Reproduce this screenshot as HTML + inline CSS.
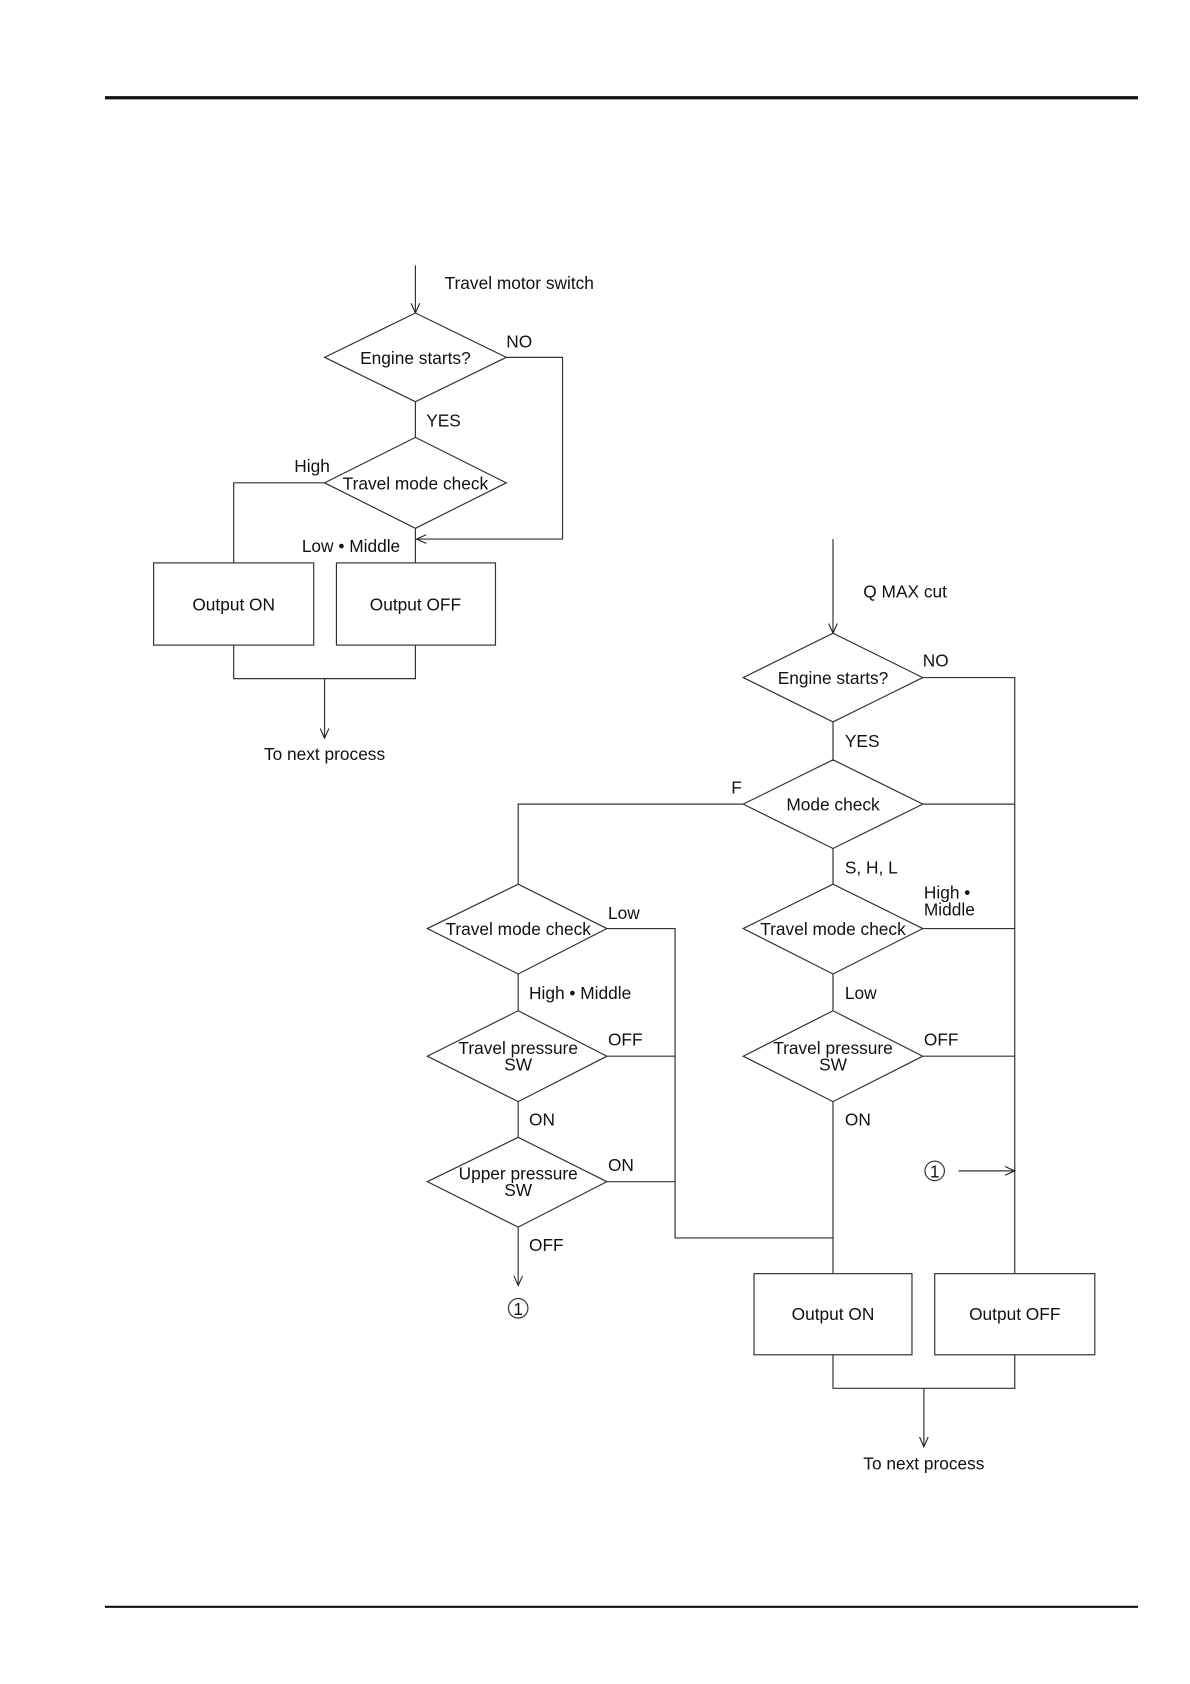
<!DOCTYPE html>
<html><head><meta charset="utf-8"><style>
html,body{margin:0;padding:0;background:#fff;}
svg{display:block;}
text{font-family:"Liberation Sans",Arial,sans-serif;font-size:16px;fill:#111;}
</style></head><body>
<svg width="1190" height="1684" viewBox="0 0 1100 1556" xmlns="http://www.w3.org/2000/svg">
<defs>
<marker id="a" markerWidth="12" markerHeight="12" refX="10" refY="5" orient="auto" markerUnits="userSpaceOnUse">
<path d="M1,1 L10,5 L1,9" fill="none" stroke="#222" stroke-width="1"/>
</marker>
</defs>
<line x1="97" y1="90" x2="1052" y2="90" stroke="#111" stroke-width="3"/>
<line x1="97" y1="1485" x2="1052" y2="1485" stroke="#111" stroke-width="2"/>
<g fill="none" stroke="#333" stroke-width="1.1">
<!-- left chart -->
<line x1="384" y1="245" x2="384" y2="289" marker-end="url(#a)"/>
<polygon points="384,289 468,330 384,371 300,330" fill="#fff"/>
<polyline points="468,330 520,330 520,498 385,498" marker-end="url(#a)"/>
<line x1="384" y1="371" x2="384" y2="404"/>
<polygon points="384,404 468,446 384,488 300,446" fill="#fff"/>
<polyline points="300,446 216,446 216,520"/>
<line x1="384" y1="488" x2="384" y2="520"/>
<rect x="142" y="520" width="148" height="76"/>
<rect x="311" y="520" width="147" height="76"/>
<polyline points="216,596 216,627 384,627 384,596"/>
<line x1="300" y1="627" x2="300" y2="682" marker-end="url(#a)"/>
<!-- right chart -->
<line x1="770" y1="498" x2="770" y2="585" marker-end="url(#a)"/>
<polygon points="770,585 853,626 770,667 687,626" fill="#fff"/>
<polyline points="853,626 938,626 938,1177"/>
<line x1="770" y1="667" x2="770" y2="702"/>
<polygon points="770,702 853,743 770,784 687,743" fill="#fff"/>
<polyline points="687,743 479,743 479,817"/>
<line x1="853" y1="743" x2="938" y2="743"/>
<line x1="770" y1="784" x2="770" y2="817"/>
<polygon points="770,817 853,858 770,900 687,858" fill="#fff"/>
<line x1="853" y1="858" x2="938" y2="858"/>
<line x1="770" y1="900" x2="770" y2="934"/>
<polygon points="770,934 853,976 770,1018 687,976" fill="#fff"/>
<line x1="853" y1="976" x2="938" y2="976"/>
<line x1="770" y1="1018" x2="770" y2="1177"/>
<line x1="886" y1="1082" x2="938" y2="1082" marker-end="url(#a)"/>
<rect x="697" y="1177" width="146" height="75"/>
<rect x="864" y="1177" width="148" height="75"/>
<polyline points="770,1252 770,1283 938,1283 938,1252"/>
<line x1="854" y1="1283" x2="854" y2="1337" marker-end="url(#a)"/>
<!-- left lower -->
<polygon points="479,817 561,858 479,900 395,858" fill="#fff"/>
<polyline points="561,858 624,858 624,1144 770,1144"/>
<line x1="479" y1="900" x2="479" y2="934"/>
<polygon points="479,934 561,976 479,1018 395,976" fill="#fff"/>
<line x1="561" y1="976" x2="624" y2="976"/>
<line x1="479" y1="1018" x2="479" y2="1051"/>
<polygon points="479,1051 561,1092 479,1134 395,1092" fill="#fff"/>
<line x1="561" y1="1092" x2="624" y2="1092"/>
<line x1="479" y1="1134" x2="479" y2="1188" marker-end="url(#a)"/>
<circle cx="479" cy="1209" r="9"/>
<circle cx="864" cy="1082" r="9"/>
</g>
<g>
<text x="411" y="267">Travel motor switch</text>
<text x="384" y="336" text-anchor="middle">Engine starts?</text>
<text x="468" y="321">NO</text>
<text x="394" y="394">YES</text>
<text x="384" y="452" text-anchor="middle">Travel mode check</text>
<text x="272" y="436">High</text>
<text x="279" y="510">Low • Middle</text>
<text x="216" y="564" text-anchor="middle">Output ON</text>
<text x="384" y="564" text-anchor="middle">Output OFF</text>
<text x="300" y="702" text-anchor="middle">To next process</text>

<text x="798" y="552">Q MAX cut</text>
<text x="770" y="632" text-anchor="middle">Engine starts?</text>
<text x="853" y="616">NO</text>
<text x="781" y="690">YES</text>
<text x="770" y="749" text-anchor="middle">Mode check</text>
<text x="676" y="733">F</text>
<text x="781" y="807">S, H, L</text>
<text x="770" y="864" text-anchor="middle">Travel mode check</text>
<text x="854" y="830">High •</text>
<text x="854" y="846">Middle</text>
<text x="781" y="923">Low</text>
<text x="770" y="974" text-anchor="middle">Travel pressure</text>
<text x="770" y="989" text-anchor="middle">SW</text>
<text x="854" y="966">OFF</text>
<text x="781" y="1040">ON</text>
<text x="864" y="1088" text-anchor="middle" font-size="14">1</text>
<text x="770" y="1220" text-anchor="middle">Output ON</text>
<text x="938" y="1220" text-anchor="middle">Output OFF</text>
<text x="854" y="1358" text-anchor="middle">To next process</text>

<text x="479" y="864" text-anchor="middle">Travel mode check</text>
<text x="562" y="849">Low</text>
<text x="489" y="923">High • Middle</text>
<text x="479" y="974" text-anchor="middle">Travel pressure</text>
<text x="479" y="989" text-anchor="middle">SW</text>
<text x="562" y="966">OFF</text>
<text x="489" y="1040">ON</text>
<text x="479" y="1090" text-anchor="middle">Upper pressure</text>
<text x="479" y="1105" text-anchor="middle">SW</text>
<text x="562" y="1082">ON</text>
<text x="489" y="1156">OFF</text>
<text x="479" y="1215" text-anchor="middle" font-size="14">1</text>
</g>
</svg>
</body></html>
